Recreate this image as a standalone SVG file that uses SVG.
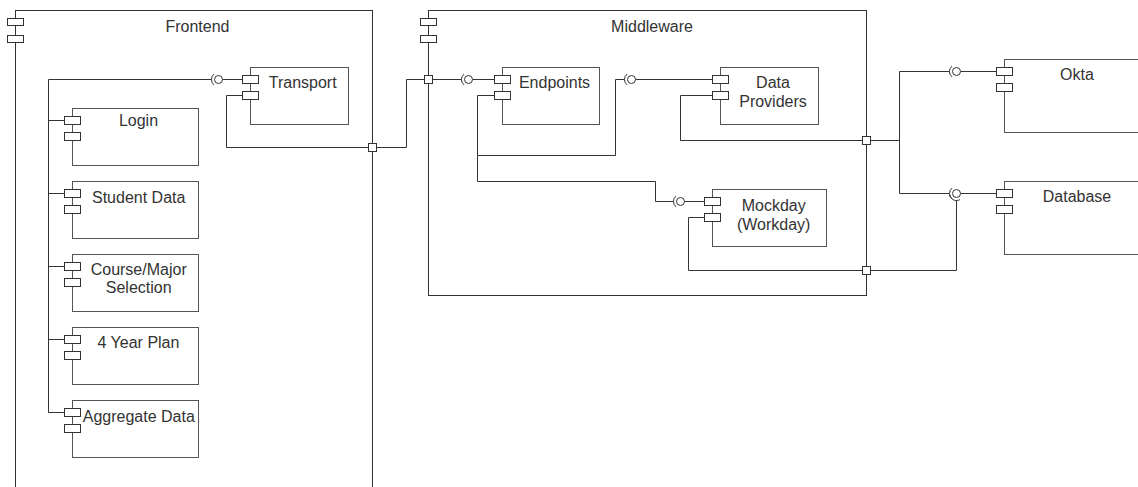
<svg xmlns="http://www.w3.org/2000/svg" width="1138" height="487" viewBox="0 0 1138 487">
  <style>
    .frame { fill: none; stroke: #333; stroke-width: 1; }
    .box { fill: #fff; stroke: #555; stroke-width: 1; }
    .port { fill: #fff; stroke: #333; stroke-width: 1; }
    .wire { fill: none; stroke: #333; stroke-width: 1; }
    .ball { fill: #fff; stroke: #333; stroke-width: 1; }
    .lbl { font-family: "Liberation Sans", Arial, sans-serif; font-size: 16px; fill: #333; text-anchor: middle; }
  </style>
  <rect width="1138" height="487" fill="#fff"/>

  <!-- Containers -->
  <g id="frontend">
    <rect class="frame" x="15.5" y="10.5" width="357" height="500"/>
    <rect class="port" x="7.5" y="18.5" width="16" height="7"/>
    <rect class="port" x="7.5" y="35.5" width="16" height="7"/>
    <text class="lbl" x="197.5" y="31.5">Frontend</text>
  </g>
  <g id="middleware">
    <rect class="frame" x="428.5" y="10.5" width="438" height="285"/>
    <rect class="port" x="420.5" y="18.5" width="16" height="7"/>
    <rect class="port" x="420.5" y="35.5" width="16" height="7"/>
    <text class="lbl" x="652" y="31.5">Middleware</text>
  </g>

  <!-- Connectors -->
  <g id="connectors">
    <!-- frontend bus -->
    <path class="wire" d="M48.5,79.5 V412.5"/>
    <path class="wire" d="M48.5,79.5 H211.5 M222.5,79.5 H242.5"/>
    <path class="wire" d="M48.5,120.5 H64.5 M48.5,193.5 H64.5 M48.5,266.5 H64.5 M48.5,339.5 H64.5 M48.5,412.5 H64.5"/>
    <!-- transport to middleware -->
    <path class="wire" d="M242.5,95.5 H226.5 V147.5 H368.5"/>
    <path class="wire" d="M376.5,147.5 H406.5 V79.5 H424.5"/>
    <path class="wire" d="M432.5,79.5 H461.5 M472.5,79.5 H494.5"/>
    <!-- endpoints out -->
    <path class="wire" d="M494.5,95.5 H477.5 V155.5 H615.5 V79.5 H624.5 M635.5,79.5 H712.5"/>
    <path class="wire" d="M477.5,155.5 V181.5 H655.5 V201.5 H673.5 M684.5,201.5 H704.5"/>
    <!-- data providers to externals -->
    <path class="wire" d="M712.5,95.5 H680.5 V140.5 H862.5"/>
    <path class="wire" d="M870.5,140.5 H899.5 M899.5,71.5 V193.5"/>
    <path class="wire" d="M899.5,71.5 H949.5 M960.5,71.5 H996.5"/>
    <path class="wire" d="M899.5,193.5 H949.5 M960.5,193.5 H996.5"/>
    <!-- mockday to database -->
    <path class="wire" d="M704.5,217.5 H688.5 V270.5 H862.5"/>
    <path class="wire" d="M870.5,270.5 H956.5 V200.5"/>
    <!-- boundary ports -->
    <rect class="port" x="368.5" y="143.5" width="8" height="8"/>
    <rect class="port" x="424.5" y="75.5" width="8" height="8"/>
    <rect class="port" x="862.5" y="136.5" width="8" height="8"/>
    <rect class="port" x="862.5" y="266.5" width="8" height="8"/>
    <!-- interface symbols -->
    <path class="wire" d="M214,74.1 A7,7 0 0 0 214,84.9"/>
    <circle class="ball" cx="218.5" cy="79.5" r="4"/>
    <path class="wire" d="M464,74.1 A7,7 0 0 0 464,84.9"/>
    <circle class="ball" cx="468.5" cy="79.5" r="4"/>
    <path class="wire" d="M627,74.1 A7,7 0 0 0 627,84.9"/>
    <circle class="ball" cx="631.5" cy="79.5" r="4"/>
    <path class="wire" d="M676,196.1 A7,7 0 0 0 676,206.9"/>
    <circle class="ball" cx="680.5" cy="201.5" r="4"/>
    <path class="wire" d="M952,66.1 A7,7 0 0 0 952,76.9"/>
    <circle class="ball" cx="956.5" cy="71.5" r="4"/>
    <path class="wire" d="M952,188.1 A7,7 0 0 0 952,198.9"/>
    <path class="wire" d="M960,199.6 A7,7 0 0 1 949.6,194.7"/>
    <circle class="ball" cx="956.5" cy="193.5" r="4"/>
  </g>

  <!-- Frontend components -->
  <g id="transport">
    <rect class="box" x="250.5" y="67.5" width="98" height="57"/>
    <rect class="port" x="242.5" y="75.5" width="16" height="8"/>
    <rect class="port" x="242.5" y="91.5" width="16" height="8"/>
    <text class="lbl" x="302.7" y="87.5">Transport</text>
  </g>
  <g id="login">
    <rect class="box" x="72.5" y="108.5" width="126" height="57"/>
    <rect class="port" x="64.5" y="116.5" width="16" height="8"/>
    <rect class="port" x="64.5" y="132.5" width="16" height="8"/>
    <text class="lbl" x="138.5" y="126">Login</text>
  </g>
  <g id="student-data">
    <rect class="box" x="72.5" y="181.5" width="126" height="57"/>
    <rect class="port" x="64.5" y="189.5" width="16" height="8"/>
    <rect class="port" x="64.5" y="205.5" width="16" height="8"/>
    <text class="lbl" x="138.7" y="202.5">Student Data</text>
  </g>
  <g id="course-major">
    <rect class="box" x="72.5" y="254.5" width="126" height="57"/>
    <rect class="port" x="64.5" y="262.5" width="16" height="8"/>
    <rect class="port" x="64.5" y="278.5" width="16" height="8"/>
    <text class="lbl" x="138.7" y="275"><tspan x="138.7">Course/Major</tspan><tspan x="138.7" dy="18">Selection</tspan></text>
  </g>
  <g id="four-year-plan">
    <rect class="box" x="72.5" y="327.5" width="126" height="57"/>
    <rect class="port" x="64.5" y="335.5" width="16" height="8"/>
    <rect class="port" x="64.5" y="351.5" width="16" height="8"/>
    <text class="lbl" x="138.5" y="348.3">4 Year Plan</text>
  </g>
  <g id="aggregate-data">
    <rect class="box" x="72.5" y="400.5" width="126" height="57"/>
    <rect class="port" x="64.5" y="408.5" width="16" height="8"/>
    <rect class="port" x="64.5" y="424.5" width="16" height="8"/>
    <text class="lbl" x="138.8" y="421.5">Aggregate Data</text>
  </g>

  <!-- Middleware components -->
  <g id="endpoints">
    <rect class="box" x="502.5" y="67.5" width="97" height="57"/>
    <rect class="port" x="494.5" y="75.5" width="16" height="8"/>
    <rect class="port" x="494.5" y="91.5" width="16" height="8"/>
    <text class="lbl" x="554.5" y="87.5">Endpoints</text>
  </g>
  <g id="data-providers">
    <rect class="box" x="720.5" y="67.5" width="98" height="57"/>
    <rect class="port" x="712.5" y="75.5" width="16" height="8"/>
    <rect class="port" x="712.5" y="91.5" width="16" height="8"/>
    <text class="lbl" x="773" y="88"><tspan x="773">Data</tspan><tspan x="773" dy="19">Providers</tspan></text>
  </g>
  <g id="mockday">
    <rect class="box" x="712.5" y="189.5" width="114" height="57"/>
    <rect class="port" x="704.5" y="197.5" width="16" height="8"/>
    <rect class="port" x="704.5" y="213.5" width="16" height="8"/>
    <text class="lbl" x="773.7" y="210.5"><tspan x="773.7">Mockday</tspan><tspan x="773.7" dy="19">(Workday)</tspan></text>
  </g>

  <!-- External services -->
  <g id="okta">
    <rect class="box" x="1004.5" y="59.5" width="150" height="73"/>
    <rect class="port" x="996.5" y="67.5" width="16" height="8"/>
    <rect class="port" x="996.5" y="83.5" width="16" height="8"/>
    <text class="lbl" x="1077" y="80">Okta</text>
  </g>
  <g id="database">
    <rect class="box" x="1004.5" y="181.5" width="150" height="73"/>
    <rect class="port" x="996.5" y="189.5" width="16" height="8"/>
    <rect class="port" x="996.5" y="205.5" width="16" height="8"/>
    <text class="lbl" x="1077" y="201.7">Database</text>
  </g>
</svg>
